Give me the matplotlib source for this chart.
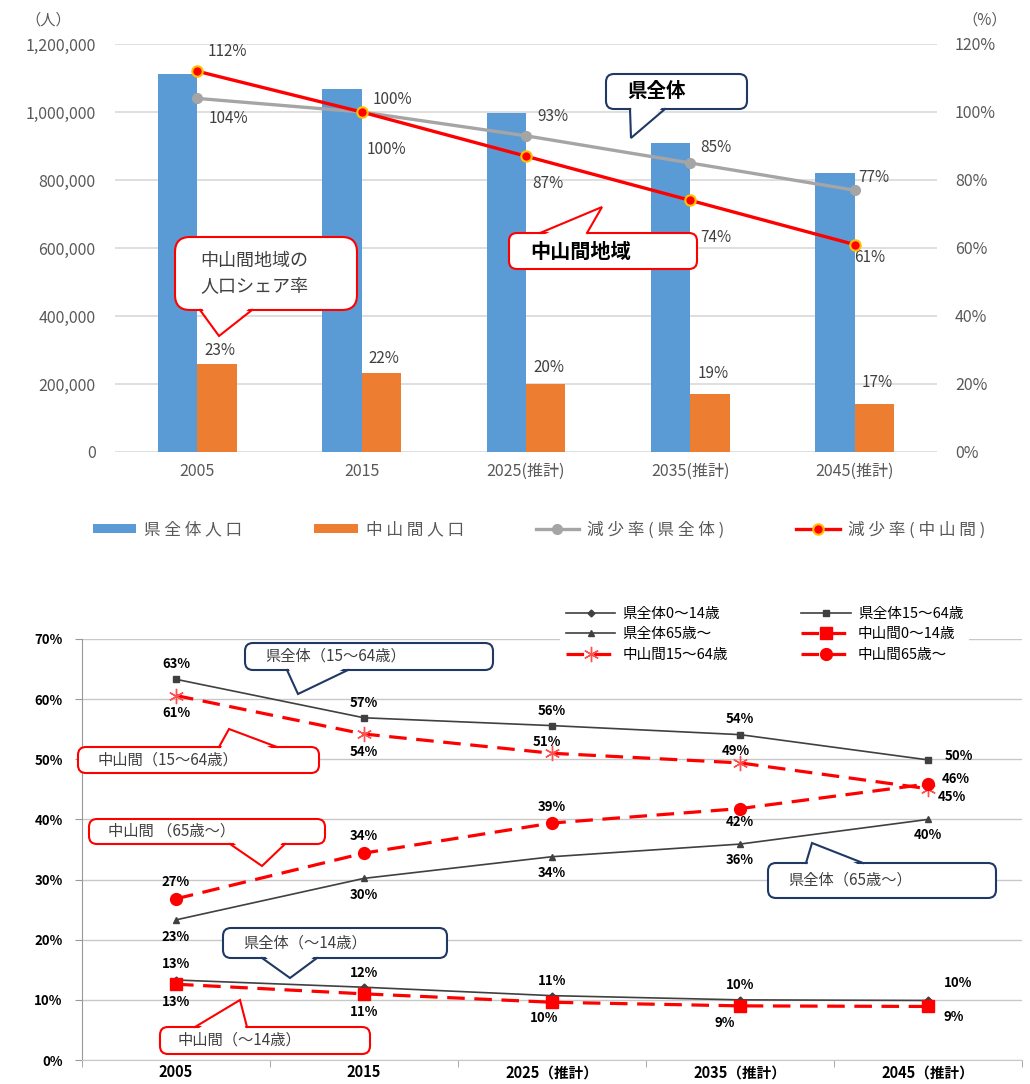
import matplotlib
matplotlib.use('Agg')
import matplotlib.pyplot as plt
from matplotlib.patches import FancyBboxPatch, Polygon, Patch
from matplotlib.lines import Line2D
from matplotlib.ticker import FuncFormatter, PercentFormatter, FixedLocator
import numpy as np

plt.rcParams['font.family'] = ['Noto Sans CJK JP', 'DejaVu Sans']

# ---- top chart data ----
years_top = ['2005', '2015', '2025(推計)', '2035(推計)', '2045(推計)']
pref_pop = [1112000, 1067000, 996000, 910000, 820000]
mid_pop = [259000, 231000, 201000, 172000, 141000]
pref_rate = [1.04, 1.00, 0.93, 0.85, 0.77]
mid_rate = [1.12, 1.00, 0.87, 0.74, 0.61]

# ---- bottom chart data ----
years_bot = ['2005', '2015', '2025（推計）', '2035（推計）', '2045（推計）']
pref_0_14 = [0.133, 0.121, 0.107, 0.100, 0.099]
pref_15_64 = [0.633, 0.569, 0.556, 0.541, 0.499]
pref_65 = [0.233, 0.302, 0.338, 0.359, 0.400]
mid_0_14 = [0.126, 0.110, 0.096, 0.090, 0.089]
mid_15_64 = [0.606, 0.542, 0.510, 0.494, 0.451]
mid_65 = [0.268, 0.344, 0.394, 0.418, 0.459]

W, H = 1030, 1084
fig = plt.figure(figsize=(W / 100, H / 100), dpi=100)

BLUE = '#5B9BD5'
ORANGE = '#ED7D31'
GRAY = '#A5A5A5'
RED = '#FF0000'
TXT = '#595959'
NAVY = '#1F3864'


def fig_rect(x0, y0, x1, y1):
    return [x0 / W, 1 - y1 / H, (x1 - x0) / W, (y1 - y0) / H]


# =================== top chart ===================
ax1 = fig.add_axes(fig_rect(115, 44, 937, 452))
x = np.arange(len(years_top)) + 0.5
bw = 0.24
ax1.bar(x - bw / 2, pref_pop, bw, color=BLUE, zorder=2)
ax1.bar(x + bw / 2, mid_pop, bw, color=ORANGE, zorder=2)
ax1.set_xlim(0, 5)
ax1.set_ylim(0, 1200000)
ax1.set_yticks(range(0, 1200001, 200000))
ax1.yaxis.set_major_formatter(FuncFormatter(lambda v, p: f'{int(v):,}'))
ax1.grid(axis='y', color='#D9D9D9', lw=1.2)
ax1.set_axisbelow(True)
for s in ax1.spines.values():
    s.set_visible(False)
ax1.set_xticks(x)
ax1.set_xticklabels(years_top)
ax1.tick_params(length=0, colors=TXT, labelsize=11.5)
ax1.tick_params(axis='y', pad=14)
ax1.tick_params(axis='x', pad=8)

# share labels above orange bars
bar_off = [13, 15, 16, 20, 22]
for xi, p, m, o in zip(x, pref_pop, mid_pop, bar_off):
    ax1.annotate(f'{m / p:.0%}', (xi + bw / 2, m), xytext=(3, o),
                 textcoords='offset pixels', ha='center', va='center',
                 fontsize=11, color='#404040')

ax1r = ax1.twinx()
ax1r.set_ylim(0, 1.2)
ax1r.set_yticks(np.arange(0, 1.21, 0.2))
ax1r.yaxis.set_major_formatter(PercentFormatter(1.0, decimals=0))
for s in ax1r.spines.values():
    s.set_visible(False)
ax1r.tick_params(length=0, colors=TXT, labelsize=11.5, pad=13)

ax1r.plot(x, pref_rate, color=GRAY, lw=2.4, marker='o', ms=7, zorder=3)
ax1r.plot(x, mid_rate, color=RED, lw=2.4, marker='o', ms=7.5,
          mfc=RED, mec='#FFC000', mew=1.5, zorder=4)

pref_off = [(31, -20), (31, 13), (27, 19), (25, 15), (19, 13)]
mid_off = [(30, 20), (25, -37), (22, -27), (25, -37), (15, -13)]
for xi, v, o in zip(x, pref_rate, pref_off):
    ax1r.annotate(f'{v:.0%}', (xi, v), xytext=o, textcoords='offset pixels',
                  ha='center', va='center', fontsize=11, color='#404040')
for xi, v, o in zip(x, mid_rate, mid_off):
    ax1r.annotate(f'{v:.0%}', (xi, v), xytext=o, textcoords='offset pixels',
                  ha='center', va='center', fontsize=11, color='#404040')

fig.text(48 / W, 1 - 20 / H, '（人）', ha='center', va='center', fontsize=11, color=TXT)
fig.text(985 / W, 1 - 20 / H, '（%）', ha='center', va='center', fontsize=11, color=TXT)

top_handles = [
    Patch(facecolor=BLUE),
    Patch(facecolor=ORANGE),
    Line2D([], [], color=GRAY, lw=2.4, marker='o', ms=7),
    Line2D([], [], color=RED, lw=2.4, marker='o', ms=7.5, mfc=RED, mec='#FFC000', mew=1.5),
]
top_labels = ['県全体人口', '中山間人口', '減少率(県全体)', '減少率(中山間)']
fig.legend(top_handles, [' '.join(t) for t in top_labels], loc='center',
           bbox_to_anchor=(539 / W, 1 - 530 / H), ncol=4, frameon=False,
           fontsize=12, handlelength=2.6, handleheight=0.5, handletextpad=0.5,
           columnspacing=4.3, labelcolor=TXT)

# =================== bottom chart ===================
ax2 = fig.add_axes(fig_rect(82, 639, 1022, 1060))
xb = np.arange(len(years_bot)) + 0.5
ax2.set_xlim(0, 5)
ax2.set_ylim(0, 0.7)
ax2.set_yticks(np.arange(0, 0.71, 0.1))
ax2.yaxis.set_major_formatter(PercentFormatter(1.0, decimals=0))
ax2.grid(axis='y', color='#C8C8C8', lw=1)
ax2.set_axisbelow(True)
ax2.spines['top'].set_visible(False)
ax2.spines['right'].set_visible(False)
ax2.spines['left'].set_color('#999999')
ax2.spines['bottom'].set_color('#C8C8C8')
ax2.set_xticks(xb)
ax2.set_xticklabels(years_bot, fontweight='bold')
ax2.xaxis.set_minor_locator(FixedLocator(np.arange(0, 5.1, 1)))
ax2.tick_params(axis='x', which='major', length=0, pad=3, labelsize=10.5)
ax2.tick_params(axis='x', which='minor', length=5, color='#999999')
ax2.tick_params(axis='y', length=5, color='#999999', labelsize=9.5, pad=9)
for lbl in ax2.get_yticklabels():
    lbl.set_fontweight('bold')

DARK = '#404040'
h_p014, = ax2.plot(xb, pref_0_14, color=DARK, lw=1.2, marker='D', ms=3.5, label='県全体0～14歳')
h_p1564, = ax2.plot(xb, pref_15_64, color=DARK, lw=1.2, marker='s', ms=5, label='県全体15～64歳')
h_p65, = ax2.plot(xb, pref_65, color=DARK, lw=1.2, marker='^', ms=5, label='県全体65歳～')
h_m014, = ax2.plot(xb, mid_0_14, color=RED, lw=2.3, dashes=(5.5, 3), marker='s', ms=9, label='中山間0～14歳')
h_m1564, = ax2.plot(xb, mid_15_64, color=RED, lw=2.3, dashes=(5.5, 3), marker=(6, 2, 0), ms=11,
                    mew=1.0, mec='#FF5050', label='中山間15～64歳')
h_m65, = ax2.plot(xb, mid_65, color=RED, lw=2.3, dashes=(5.5, 3), marker='o', ms=8.5, label='中山間65歳～')

series = [
    (pref_15_64, [(0, 15), (0, 15), (0, 15), (0, 16), (31, 4)]),
    (mid_15_64, [(0, -17), (0, -18), (-5, 11), (-4, 12), (24, -8)]),
    (pref_65, [(0, -17), (0, -17), (0, -16), (0, -16), (0, -16)]),
    (mid_65, [(0, 17), (0, 17), (0, 16), (0, -13), (28, 5)]),
    (pref_0_14, [(0, 16), (0, 14), (0, 15), (0, 15), (30, 17)]),
    (mid_0_14, [(0, -18), (0, -18), (-8, -16), (-15, -17), (26, -11)]),
]
for vals, offs in series:
    for xi, v, o in zip(xb, vals, offs):
        ax2.annotate(f'{v:.0%}', (xi, v), xytext=o, textcoords='offset pixels',
                     ha='center', va='center', fontsize=9.5, fontweight='bold', color='black')

bot_handles = [h_p014, h_p65, h_m1564, h_p1564, h_m014, h_m65]
fig.legend(bot_handles, [h.get_label() for h in bot_handles], loc='upper left',
           bbox_to_anchor=(560 / W, 1 - 601 / H), ncol=2, fontsize=10.5,
           frameon=True, facecolor='white', edgecolor='none', framealpha=1,
           borderaxespad=0, handlelength=3.4, handletextpad=0.5,
           columnspacing=5.0, labelspacing=0.45)

# =================== callouts ===================
ov = fig.add_axes([0, 0, 1, 1], zorder=10)
ov.set_xlim(0, W)
ov.set_ylim(H, 0)
ov.axis('off')
ov.patch.set_alpha(0)


def callout(box, base, tip, side, text, edge, tx, r=8, **kw):
    x0, y0, x1, y1 = box
    ov.add_patch(FancyBboxPatch((x0, y0), x1 - x0, y1 - y0,
                                boxstyle=f'round,pad=0,rounding_size={r}',
                                fc='white', ec=edge, lw=1.5, zorder=1))
    ey = y0 if side == 'top' else y1
    d = 3 if side == 'top' else -3
    ov.add_patch(Polygon([(base[0] + 1.2, ey + d), (base[1] - 1.2, ey + d), tip],
                         closed=True, fc='white', ec='none', zorder=2))
    ov.plot([base[0], tip[0], base[1]], [ey, tip[1], ey], color=edge, lw=1.5,
            zorder=3, solid_joinstyle='miter')
    ov.text(tx, (y0 + y1) / 2, text, ha='left', va='center', zorder=4, **kw)


# top chart callouts
callout((175, 237, 357, 310), (200, 252), (219, 336), 'bottom', '中山間地域の\n人口シェア率',
        RED, 200, r=15, fontsize=13, color='#404040', linespacing=1.45)
callout((606, 74, 747, 109), (630, 665), (631, 138), 'bottom', '県全体',
        NAVY, 627, fontsize=14, fontweight='bold', color='black')
callout((509, 233, 697, 269), (540, 587), (602, 207), 'top', '中山間地域',
        RED, 530, fontsize=14.5, fontweight='bold', color='black')

# bottom chart callouts
ckw = dict(fontsize=11, color='#404040')
callout((245, 643, 493, 670), (287, 348), (298, 694), 'bottom', '県全体（15～64歳）', NAVY, 265, **ckw)
callout((78, 747, 319, 773), (219, 277), (229, 729), 'top', '中山間（15～64歳）', RED, 98, **ckw)
callout((89, 819, 325, 844), (230, 285), (262, 866), 'bottom', '中山間 （65歳～）', RED, 108, **ckw)
callout((768, 863, 996, 898), (806, 863), (812, 843), 'top', '県全体（65歳～）', NAVY, 788, **ckw)
callout((223, 928, 447, 958), (262, 317), (290, 978), 'bottom', '県全体（～14歳）', NAVY, 243, **ckw)
callout((160, 1027, 370, 1054), (195, 247), (240, 1000), 'top', '中山間（～14歳）', RED, 178, **ckw)

fig.savefig('out.png', dpi=100)
